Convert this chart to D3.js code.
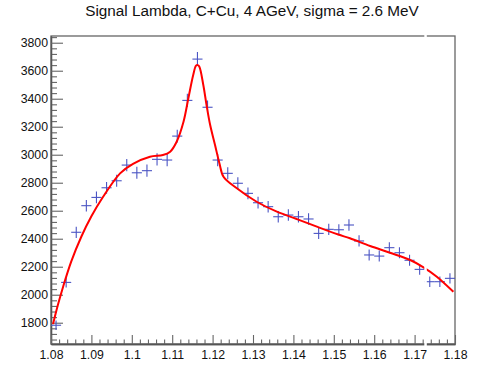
<!DOCTYPE html>
<html>
<head>
<meta charset="utf-8">
<script src="https://cdn.jsdelivr.net/npm/d3@7"></script>
<style>
  body { margin: 0; background: #fff; }
  svg { display: block; font-family: "Liberation Sans", Arial, sans-serif; }
</style>
</head>
<body>
<svg width="491" height="369"></svg>
<script>
// histogram: 40 bins of 0.0025 from 1.08 to 1.18
const binLow = 1.08;
const binWidth = 0.0025;
const counts = [
  1782, 2088, 2446, 2636, 2695, 2764, 2814, 2926, 2871, 2886,
  2967, 2962, 3133, 3388, 3683, 3339, 2962, 2867, 2796, 2724,
  2657, 2629, 2557, 2569, 2557, 2541, 2438, 2467, 2464, 2498,
  2384, 2284, 2276, 2336, 2300, 2246, 2181, 2093, 2093, 2117
];
const errors = [
  34, 36, 40, 41, 42, 42, 43, 44, 43, 44,
  44, 44, 46, 48, 50, 48, 44, 43, 43, 42,
  42, 41, 41, 41, 41, 41, 40, 40, 40, 41,
  40, 39, 39, 39, 39, 39, 38, 37, 37, 37
];

// fit curve
const fitX = [
  1.0805, 1.0817, 1.0830, 1.0850, 1.0875, 1.0900, 1.0929, 1.0971, 1.1003, 1.1045,
  1.1077, 1.1095, 1.1111, 1.1128, 1.1140, 1.1152, 1.1159, 1.1163, 1.1167, 1.1177,
  1.1185, 1.1194, 1.1206, 1.1217, 1.1227, 1.1260, 1.1309, 1.1359, 1.1408, 1.1458,
  1.1511, 1.1540, 1.1590, 1.1639, 1.1689, 1.1722, 1.1755, 1.1796
];
const fitY = [
  1790, 1926, 2057, 2236, 2414, 2560, 2700, 2867, 2935, 2986,
  2998, 3022, 3093, 3236, 3403, 3569, 3636, 3640, 3630, 3498,
  3355, 3212, 3069, 2938, 2843, 2760, 2664, 2593, 2541, 2486,
  2430, 2403, 2348, 2300, 2248, 2196, 2129, 2021
];

const yMajor = [1800, 2000, 2200, 2400, 2600, 2800, 3000, 3200, 3400, 3600, 3800];
const xMajor = [1.08, 1.09, 1.1, 1.11, 1.12, 1.13, 1.14, 1.15, 1.16, 1.17, 1.18];
const title = "Signal Lambda, C+Cu, 4 AGeV, sigma = 2.6 MeV";

const svg = d3.select("svg");

const frame = { left: 51, right: 455, top: 36, bottom: 344 };

const x = d3.scaleLinear().domain([1.08, 1.18]).range([frame.left, frame.right]);
const y = d3.scaleLinear().domain([1648, 3848]).range([frame.bottom, frame.top]);

const yMinor = d3.range(1680, 3848, 40).filter(v => v % 200 !== 0);
const xMinor = d3.range(0, 51).map(i => 1.08 + i * 0.002).filter((v, i) => i % 5 !== 0);

// frame
svg.append("rect")
  .attr("x", frame.left).attr("y", frame.top)
  .attr("width", frame.right - frame.left).attr("height", frame.bottom - frame.top)
  .attr("fill", "none").attr("stroke", "#666").attr("stroke-width", 1.3);

const styleAxis = g => {
  g.select(".domain").attr("stroke", "#555").attr("stroke-width", 1.3);
  g.selectAll(".tick line").attr("stroke", "#666").attr("stroke-width", 1.1);
  g.selectAll("text").attr("fill", "#111").style("font-size", "12.3px");
};

// y axis
svg.append("g")
  .attr("transform", `translate(${frame.left},0)`)
  .call(d3.axisLeft(y).tickValues(yMinor).tickSizeInner(-6).tickSizeOuter(0).tickFormat(""))
  .call(styleAxis);
svg.append("g")
  .attr("transform", `translate(${frame.left},0)`)
  .call(d3.axisLeft(y).tickValues(yMajor).tickSizeInner(-12).tickSizeOuter(0).tickPadding(3).tickFormat(d3.format("d")))
  .call(styleAxis);

// x axis
svg.append("g")
  .attr("transform", `translate(0,${frame.bottom})`)
  .call(d3.axisBottom(x).tickValues(xMinor).tickSizeInner(-4.5).tickSizeOuter(0).tickFormat(""))
  .call(styleAxis);
const xAxisG = svg.append("g")
  .attr("transform", `translate(0,${frame.bottom})`)
  .call(d3.axisBottom(x).tickValues(xMajor).tickSizeInner(-9).tickSizeOuter(0).tickPadding(6).tickFormat(d => d3.format("")(+d.toFixed(2))))
  .call(styleAxis);

// data crosses
const bins = counts.map((c, i) => ({
  lo: binLow + i * binWidth,
  hi: binLow + (i + 1) * binWidth,
  mid: binLow + (i + 0.5) * binWidth,
  v: c,
  e: errors[i]
}));

const cross = svg.append("g").attr("stroke", "#4b55c4").attr("stroke-width", 1.1);
cross.selectAll(".h").data(bins).enter().append("line")
  .attr("x1", d => x(d.lo)).attr("x2", d => x(d.hi))
  .attr("y1", d => y(d.v)).attr("y2", d => y(d.v));
cross.selectAll(".v").data(bins).enter().append("line")
  .attr("x1", d => x(d.mid)).attr("x2", d => x(d.mid))
  .attr("y1", d => y(d.v - d.e)).attr("y2", d => y(d.v + d.e));

// fit
const line = d3.line()
  .x(d => x(d[0]))
  .y(d => y(d[1]))
  .curve(d3.curveCatmullRom.alpha(0.5));

svg.append("path")
  .datum(fitX.map((v, i) => [v, fitY[i]]))
  .attr("d", line)
  .attr("fill", "none")
  .attr("stroke", "#ff0000")
  .attr("stroke-width", 2);

// thin blank stripe seen in the picture (plot area only)
svg.append("rect")
  .attr("x", 424.3).attr("y", frame.top - 2).attr("width", 2.5).attr("height", frame.bottom - frame.top + 4)
  .attr("fill", "#fff");

svg.append("text")
  .attr("x", 252).attr("y", 16)
  .attr("text-anchor", "middle")
  .style("font-size", "15.3px")
  .attr("fill", "#111")
  .text(title);
</script>
</body>
</html>
